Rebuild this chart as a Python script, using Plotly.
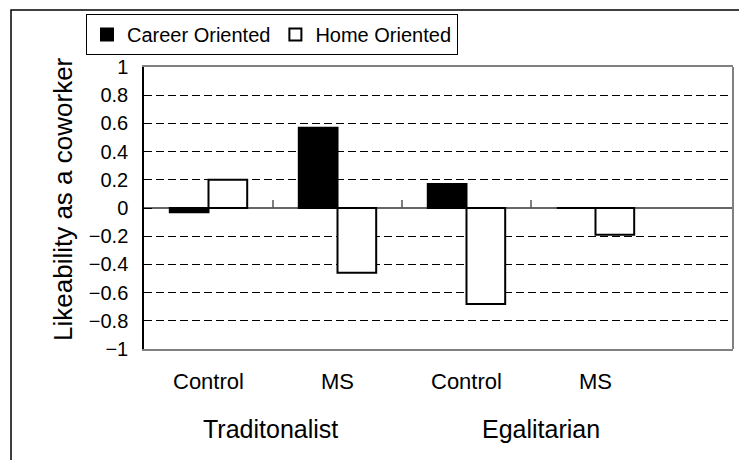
import plotly.graph_objects as go

conditions = ["Control", "MS", "Control", "MS"]
groups = ["Traditonalist", "Egalitarian"]
career = [-0.03, 0.57, 0.17, 0.0]
home = [0.20, -0.46, -0.68, -0.19]
yticks = [-1, -0.8, -0.6, -0.4, -0.2, 0, 0.2, 0.4, 0.6, 0.8, 1]
y_title = "Likeability as a coworker"

FONT = "Liberation Sans, Arial, sans-serif"
xs = list(range(len(conditions)))
group_pos = [0.48, 2.58]

fig = go.Figure()
fig.add_trace(go.Bar(x=xs, y=career, name="Career Oriented",
                     marker=dict(color="black", line=dict(color="black", width=2))))
fig.add_trace(go.Bar(x=xs, y=home, name="Home Oriented",
                     marker=dict(color="white", line=dict(color="black", width=2))))

shapes = []
for b in range(len(conditions) - 1):
    shapes.append(dict(type="line", xref="x", yref="y", x0=b + 0.5, x1=b + 0.5,
                       y0=0, y1=0.057, line=dict(color="#555555", width=1.5)))
shapes.append(dict(type="line", xref="paper", yref="paper", x0=1, x1=1, y0=0, y1=1,
                   line=dict(color="#808080", width=2)))
shapes.append(dict(type="rect", xref="paper", yref="paper", x0=-0.2258, x1=1.05,
                   y0=-0.6, y1=1.202, line=dict(color="black", width=1.5),
                   fillcolor="rgba(0,0,0,0)", layer="below"))

annotations = []
for i, c in enumerate(conditions):
    annotations.append(dict(x=i, y=-0.117, xref="x", yref="paper", text=c, showarrow=False,
                            font=dict(size=22, family=FONT, color="black"),
                            xanchor="center", yanchor="middle"))
for gp, g in zip(group_pos, groups):
    annotations.append(dict(x=gp, y=-0.284, xref="x", yref="paper", text=g,
                            showarrow=False, font=dict(size=25, family=FONT, color="black"),
                            xanchor="center", yanchor="middle"))
annotations.append(dict(x=-0.1375, y=0.532, xref="paper", yref="paper", text=y_title,
                        textangle=-90, showarrow=False,
                        font=dict(size=26, family=FONT, color="black"),
                        xanchor="center", yanchor="middle"))

fig.update_layout(
    width=739, height=460,
    margin=dict(l=144, r=6, t=67, b=111, autoexpand=False),
    paper_bgcolor="white", plot_bgcolor="white",
    barmode="group", bargap=0.4, bargroupgap=0,
    font=dict(family=FONT, color="black"),
    showlegend=True,
    legend=dict(orientation="h", x=-0.0985, y=1.188, xanchor="left", yanchor="top",
                bordercolor="black", borderwidth=1, bgcolor="white",
                font=dict(size=20, family=FONT, color="black"),
                itemwidth=30, tracegroupgap=0),
    shapes=shapes,
    annotations=annotations,
)
fig.update_xaxes(range=[-0.5, 4.066], tickvals=xs, showticklabels=False,
                 showgrid=False, zeroline=False, ticks="",
                 showline=True, mirror=True, linecolor="#808080", linewidth=2)
fig.update_yaxes(range=[-1, 1], tickvals=yticks,
                 ticktext=[("\u2212" + f"{abs(v):g}") if v < 0 else f"{v:g}" for v in yticks],
                 showgrid=True, gridcolor="black", gridwidth=1, griddash="8px,4px",
                 zeroline=True, zerolinecolor="#666666", zerolinewidth=2,
                 showline=True, linecolor="black", linewidth=1.5,
                 ticks="inside", ticklen=8, tickcolor="black",
                 tickfont=dict(size=20, family=FONT, color="black"), ticklabelstandoff=10)

fig.write_html("out.html", config={"displayModeBar": False},
               post_script="document.body.style.margin='0px';")
